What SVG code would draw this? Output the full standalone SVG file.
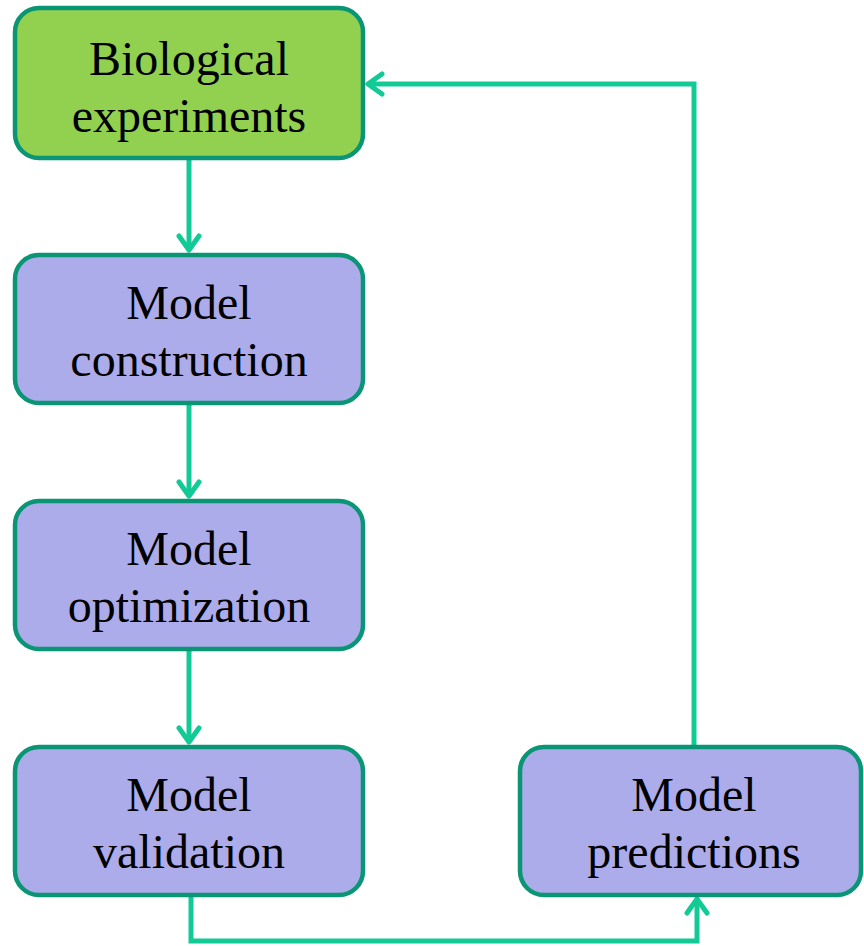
<svg xmlns="http://www.w3.org/2000/svg" width="864" height="946" viewBox="0 0 864 946">
<style>
.box{stroke:#0A9574;stroke-width:4.5}
.green{fill:#92D050}
.purple{fill:#ACACEB}
.t{font-family:"Liberation Serif","Times New Roman",serif;font-size:48px;fill:#000;text-anchor:middle}
.c{fill:none;stroke:#12CA96;stroke-width:5;stroke-linejoin:miter}
.ah{fill:none;stroke:#12CA96;stroke-width:5;stroke-linecap:round;stroke-linejoin:round}
</style>
<rect width="864" height="946" fill="#fff"/>
<g id="connectors">
<path class="c" d="M189,160 V250"/>
<path class="ah" d="M179,236 L189,250 L199,236"/>
<path class="c" d="M189,405 V496"/>
<path class="ah" d="M179,482 L189,496 L199,482"/>
<path class="c" d="M189,651 V742"/>
<path class="ah" d="M179,728 L189,742 L199,728"/>
<path class="c" d="M191,897 V941 H697 V899"/>
<path class="ah" d="M687,913 L697,899 L707,913"/>
<path class="c" d="M694,745 V84 H368"/>
<path class="ah" d="M382,74 L368,84 L382,94"/>
</g>
<g id="bio">
<rect class="box green" x="15" y="8" width="348" height="150" rx="24"/>
<text class="t" x="189" y="75">Biological</text>
<text class="t" x="189" y="132">experiments</text>
</g>
<g id="construction">
<rect class="box purple" x="15" y="255" width="348" height="148" rx="24"/>
<text class="t" x="189" y="319">Model</text>
<text class="t" x="189" y="376">construction</text>
</g>
<g id="optimization">
<rect class="box purple" x="15" y="501" width="348" height="148" rx="24"/>
<text class="t" x="189" y="565">Model</text>
<text class="t" x="189" y="622">optimization</text>
</g>
<g id="validation">
<rect class="box purple" x="15" y="747" width="348" height="148" rx="24"/>
<text class="t" x="189" y="811">Model</text>
<text class="t" x="189" y="868">validation</text>
</g>
<g id="predictions">
<rect class="box purple" x="520" y="747" width="341" height="148" rx="24"/>
<text class="t" x="694" y="811">Model</text>
<text class="t" x="694" y="868">predictions</text>
</g>
</svg>
